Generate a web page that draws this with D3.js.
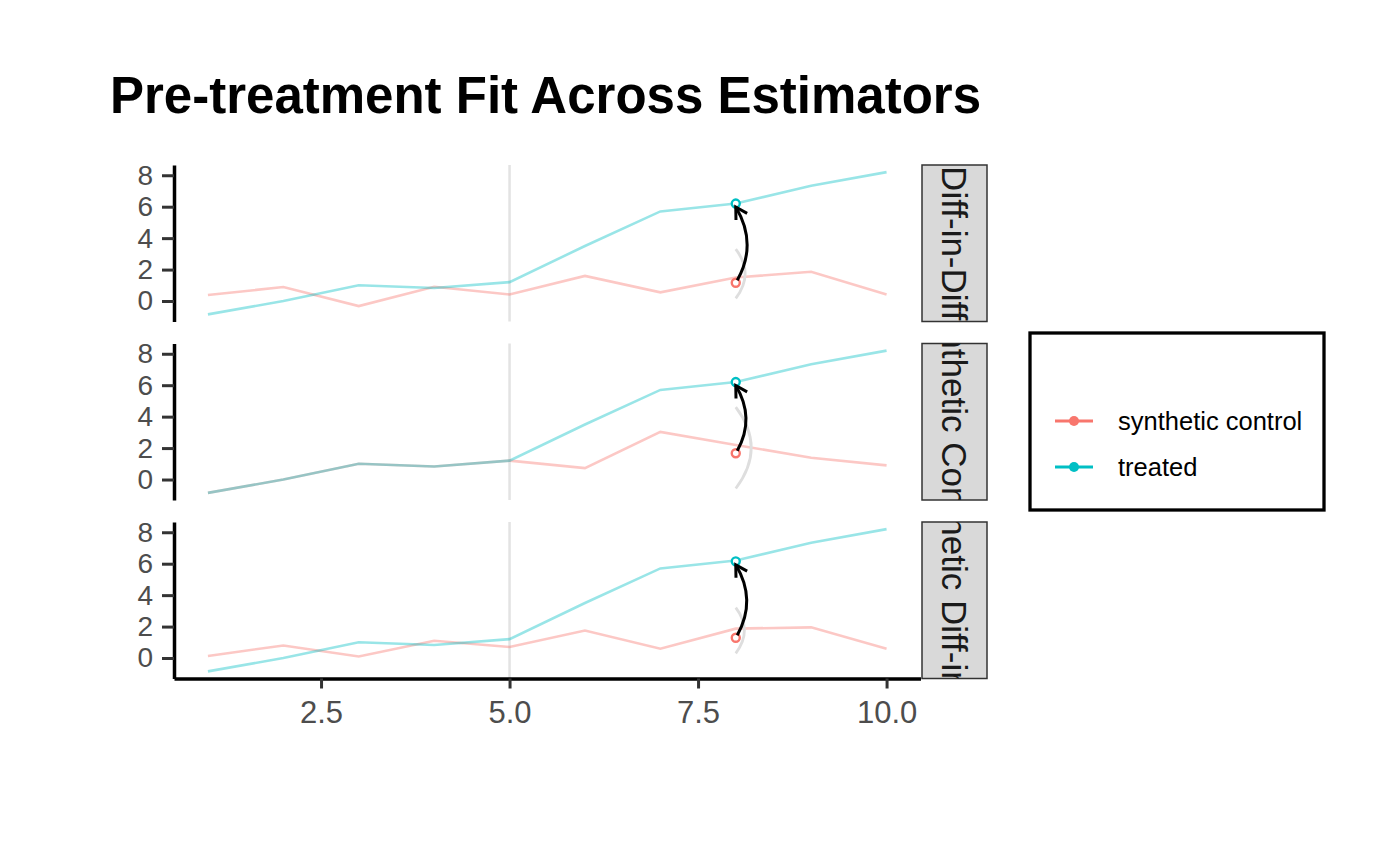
<!DOCTYPE html>
<html>
<head>
<meta charset="utf-8">
<script src="https://cdn.jsdelivr.net/npm/d3@7"></script>
<style>
  body { margin: 0; background: #fff; }
  svg { font-family: "Liberation Sans", Arial, sans-serif; }
</style>
</head>
<body>
<svg class="chart"></svg>
<script>
// values
var years = [1, 2, 3, 4, 5, 6, 7, 8, 9, 10];
var estimators = ['Diff-in-Diff', 'Synthetic Control', 'Synthetic Diff-in-Diff'];
var treated = [-0.85, 0.0, 1.0, 0.83, 1.2, 3.5, 5.7, 6.2, 7.33, 8.2];
var synthDid = [0.38, 0.89, -0.32, 0.91, 0.42, 1.6, 0.55, 1.5, 1.86, 0.42];
var synthSc = [-0.85, 0.0, 1.0, 0.83, 1.2, 0.73, 3.03, 2.2, 1.38, 0.9];
var synthSdid = [0.13, 0.8, 0.1, 1.1, 0.7, 1.75, 0.59, 1.87, 1.95, 0.59];
var gapFrom = [1.16, 1.67, 1.29];
var gapTo = [6.2, 6.2, 6.15];
var shadowFrom = [0.17, -0.57, 0.3];
var shadowTo = [3.3, 4.6, 3.2];
var treatYear = 5;
var gapYear = 8;
var xTicks = [2.5, 5, 7.5, 10];
var yTicks = [0, 2, 4, 6, 8];
var seriesNames = ['synthetic control', 'treated'];
var seriesColors = ['#F8766D', '#00BFC4'];

function show() {
    'use strict';

    var W = 1400, H = 865;
    var panelLeft = 174, panelRight = 920.5;
    var panelTop = 165, panelH = 156.5, panelGap = 22;
    var stripX = 922, stripW = 65;

    var svg = d3.select('.chart')
        .attr('width', W)
        .attr('height', H);

    var synth = [synthDid, synthSc, synthSdid];

    // ggplot style 5% expansion
    var xExt = d3.extent(years);
    var xPad = (xExt[1] - xExt[0]) * 0.05;
    var x = d3.scaleLinear()
        .domain([xExt[0] - xPad, xExt[1] + xPad])
        .range([panelLeft, panelRight]);

    var allY = treated.concat(synthDid, synthSc, synthSdid);
    var yExt = d3.extent(allY);
    var yPad = (yExt[1] - yExt[0]) * 0.05;

    svg.append('text')
        .attr('x', 110)
        .attr('y', 113)
        .attr('font-size', 51)
        .attr('font-weight', 'bold')
        .attr('fill', '#000')
        .text('Pre-treatment Fit Across Estimators');

    var defs = svg.append('defs');

    estimators.forEach(function (name, i) {
        var top = panelTop + i * (panelH + panelGap);
        var y = d3.scaleLinear()
            .domain([yExt[0] - yPad, yExt[1] + yPad])
            .range([top + panelH, top]);

        var g = svg.append('g');

        g.append('line')
            .attr('x1', x(treatYear)).attr('x2', x(treatYear))
            .attr('y1', top).attr('y2', top + panelH)
            .attr('stroke', '#e3e3e3')
            .attr('stroke-width', 2.5);

        var line = d3.line()
            .x(function (d, j) { return x(years[j]); })
            .y(function (d) { return y(d); });

        [synth[i], treated].forEach(function (vals, k) {
            g.append('path')
                .attr('d', line(vals))
                .attr('fill', 'none')
                .attr('stroke', seriesColors[k])
                .attr('stroke-opacity', 0.4)
                .attr('stroke-width', 2.6);
        });

        // curved arrow from counterfactual point to treated point
        function curve(x0, y0, x1, y1, k) {
            var len = Math.abs(y1 - y0);
            var cx = (x0 + x1) / 2 + len * k;
            var cy = (y0 + y1) / 2;
            var p = d3.path();
            p.moveTo(x0, y0);
            p.quadraticCurveTo(cx, cy, x1, y1);
            return { d: p.toString(), cx: cx, cy: cy };
        }

        var sh = curve(x(gapYear), y(shadowFrom[i]), x(gapYear), y(shadowTo[i]), 0.38);
        g.append('path')
            .attr('d', sh.d)
            .attr('fill', 'none')
            .attr('stroke', '#dedede')
            .attr('stroke-width', 2.8);

        [gapFrom[i], gapTo[i]].forEach(function (v, k) {
            g.append('circle')
                .attr('cx', x(gapYear))
                .attr('cy', y(v))
                .attr('r', 4)
                .attr('fill', '#fff')
                .attr('stroke', seriesColors[k])
                .attr('stroke-width', 2.4);
        });

        var tipX = x(gapYear), tipY = y(gapTo[i]) + 3.5;
        var arc = curve(x(gapYear) + 1.5, y(gapFrom[i]) - 2.5, tipX, tipY, 0.29);
        g.append('path')
            .attr('d', arc.d)
            .attr('fill', 'none')
            .attr('stroke', '#000')
            .attr('stroke-width', 3);

        var ang = Math.atan2(arc.cy - tipY, arc.cx - tipX);
        var headLen = 13, spread = Math.PI / 6;
        var head = d3.path();
        head.moveTo(tipX + headLen * Math.cos(ang - spread), tipY + headLen * Math.sin(ang - spread));
        head.lineTo(tipX, tipY);
        head.lineTo(tipX + headLen * Math.cos(ang + spread), tipY + headLen * Math.sin(ang + spread));
        g.append('path')
            .attr('d', head.toString())
            .attr('fill', 'none')
            .attr('stroke', '#000')
            .attr('stroke-width', 3)
            .attr('stroke-linejoin', 'miter');

        // y axis
        var yAxis = d3.axisLeft(y)
            .tickValues(yTicks)
            .tickSize(12)
            .tickSizeOuter(0)
            .tickPadding(9)
            .tickFormat(d3.format('d'));
        var ya = svg.append('g')
            .attr('transform', 'translate(' + panelLeft + ',0)')
            .call(yAxis);
        ya.select('.domain').attr('stroke', '#000').attr('stroke-width', 3.5);
        ya.selectAll('.tick line').attr('stroke', '#333').attr('stroke-width', 3);
        ya.selectAll('.tick text')
            .attr('font-size', 28)
            .attr('font-family', '"Liberation Sans", Arial, sans-serif')
            .attr('fill', '#4d4d4d');

        // strip
        var clipId = 'strip-clip-' + i;
        defs.append('clipPath').attr('id', clipId)
            .append('rect')
            .attr('x', stripX).attr('y', top)
            .attr('width', stripW).attr('height', panelH);
        svg.append('rect')
            .attr('x', stripX).attr('y', top)
            .attr('width', stripW).attr('height', panelH)
            .attr('fill', '#d9d9d9')
            .attr('stroke', '#333')
            .attr('stroke-width', 1.5);
        var sx = stripX + stripW / 2, sy = top + panelH / 2;
        svg.append('g')
            .attr('clip-path', 'url(#' + clipId + ')')
            .append('text')
            .attr('transform', 'translate(' + sx + ',' + sy + ') rotate(90)')
            .attr('text-anchor', 'middle')
            .attr('dy', '0.35em')
            .attr('font-size', 35)
            .attr('fill', '#1a1a1a')
            .text(name);

        if (i === estimators.length - 1) {
            var xAxis = d3.axisBottom(x)
                .tickValues(xTicks)
                .tickSize(10)
                .tickSizeOuter(0)
                .tickPadding(12)
                .tickFormat(d3.format('.1f'));
            var xa = svg.append('g')
                .attr('transform', 'translate(0,' + (top + panelH) + ')')
                .call(xAxis);
            xa.select('.domain').attr('stroke', '#000').attr('stroke-width', 3.5);
            xa.selectAll('.tick line').attr('stroke', '#333').attr('stroke-width', 3);
            xa.selectAll('.tick text')
                .attr('font-size', 31)
                .attr('font-family', '"Liberation Sans", Arial, sans-serif')
                .attr('fill', '#4d4d4d');
        }
    });

    // legend
    var legend = svg.append('g');
    legend.append('rect')
        .attr('x', 1030).attr('y', 333)
        .attr('width', 294).attr('height', 177)
        .attr('fill', '#fff')
        .attr('stroke', '#000')
        .attr('stroke-width', 3.3);

    var items = legend.selectAll('g.item').data(seriesNames)
        .enter()
        .append('g')
        .attr('class', 'item')
        .attr('transform', function (d, i) { return 'translate(1055,' + (421 + i * 46) + ')'; });
    items.append('line')
        .attr('x1', 0).attr('x2', 38)
        .attr('stroke', function (d, i) { return seriesColors[i]; })
        .attr('stroke-width', 3);
    items.append('circle')
        .attr('cx', 19).attr('r', 5)
        .attr('fill', function (d, i) { return seriesColors[i]; });
    items.append('text')
        .attr('x', 63)
        .attr('dy', '0.35em')
        .attr('font-size', 25.5)
        .attr('fill', '#000')
        .text(function (d) { return d; });
}

show();
</script>
</body>
</html>
